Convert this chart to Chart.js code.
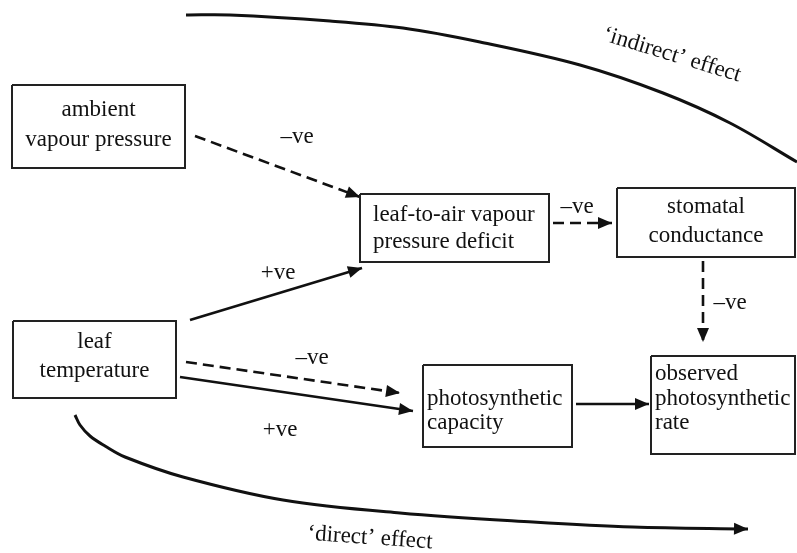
<!DOCTYPE html>
<html lang="en">
<head>
<meta charset="UTF-8">
<title>Leaf temperature / vapour pressure pathways</title>
<script src="https://cdn.jsdelivr.net/npm/chart.js"></script>
<style>
  html, body { margin: 0; padding: 0; background: #fff; }
  #wrap { width: 797px; height: 553px; }
</style>
</head>
<body>
<div id="wrap"><canvas id="diagram" width="797" height="553"></canvas></div>
<script>
// --- diagram data (in diagram units, 0..797 across, 0..553 down) ---
const boxLines = [
  ['ambient', 'vapour pressure'],
  ['leaf-to-air vapour', 'pressure deficit'],
  ['stomatal', 'conductance'],
  ['leaf', 'temperature'],
  ['photosynthetic', 'capacity'],
  ['observed', 'photosynthetic', 'rate']
];
const boxX0 = [12, 360, 617, 13, 423, 651];
const boxX1 = [185, 549, 795, 176, 572, 795];
const boxY0 = [85, 194, 188, 321, 365, 356];
const boxY1 = [168, 262, 257, 398, 447, 454];
const boxBaselines = [[116, 146], [221, 248], [213, 242], [348, 377], [405, 429], [380, 405, 429]];
const boxAlign = ['center', 'left', 'center', 'center', 'left', 'left'];

// straight arrows: start, end, dashed?
const arrowFrom = [[195, 136], [190, 320], [553, 223], [703, 261], [186, 362], [180, 377], [576, 404]];
const arrowTo   = [[360, 197], [362, 268], [612, 223], [703, 342], [400, 393], [413, 411], [649, 404]];
const arrowDashed = [true, false, true, true, true, false, false];

// sign labels on the arrows
const signText = ['\u2013ve', '+ve', '\u2013ve', '\u2013ve', '\u2013ve', '+ve'];
const signPos = [[297, 143], [278, 279], [577, 213], [730, 309], [312, 364], [280, 436]];

// long curved effects
const indirectCurve = [[186, 15], [230, 15], [330, 21], [403, 28], [480, 42], [580, 65], [663, 93], [730, 123], [797, 162]];
const directCurve = [[75, 415], [80, 425], [90, 436], [105, 446], [125, 457], [183, 477], [283, 500], [400, 513], [533, 522], [633, 527], [748, 529]];
const effectText = ['\u2018indirect\u2019 effect', '\u2018direct\u2019 effect'];
const effectPos = [[672, 55], [370, 538]];
const effectAngle = [17, 4];

const FONT = '23px "Liberation Serif", "DejaVu Serif", serif';
const INK = '#111';

const pts = arr => arr.map(p => ({ x: p[0], y: p[1] }));
const datasets = [];

boxX0.forEach((x0, i) => {
  datasets.push({
    data: pts([[x0, boxY0[i]], [boxX1[i], boxY0[i]], [boxX1[i], boxY1[i]], [x0, boxY1[i]], [x0, boxY0[i]]]),
    borderColor: '#222', borderWidth: 2, kind: 'box'
  });
});
arrowFrom.forEach((f, i) => {
  datasets.push({
    data: pts([f, arrowTo[i]]),
    borderColor: INK, borderWidth: 2.6,
    borderDash: arrowDashed[i] ? [11, 6] : [],
    kind: 'arrow'
  });
});
datasets.push({ data: pts(indirectCurve), borderColor: INK, borderWidth: 3, tension: 0.35, kind: 'curve' });
datasets.push({ data: pts(directCurve), borderColor: INK, borderWidth: 3, tension: 0.35, kind: 'arrow' });

// arrowheads + all text, drawn through the chart scales
const decorations = {
  id: 'decorations',
  afterDatasetsDraw(chart) {
    const { ctx, scales: { x, y } } = chart;
    ctx.save();
    ctx.fillStyle = INK;

    chart.data.datasets.forEach(ds => {
      if (ds.kind !== 'arrow') return;
      const n = ds.data.length;
      const a = ds.data[n - 2], b = ds.data[n - 1];
      const ax = x.getPixelForValue(a.x), ay = y.getPixelForValue(a.y);
      const bx = x.getPixelForValue(b.x), by = y.getPixelForValue(b.y);
      const ang = Math.atan2(by - ay, bx - ax);
      const len = 14, half = 6;
      ctx.beginPath();
      ctx.moveTo(bx, by);
      ctx.lineTo(bx - len * Math.cos(ang) + half * Math.sin(ang), by - len * Math.sin(ang) - half * Math.cos(ang));
      ctx.lineTo(bx - len * Math.cos(ang) - half * Math.sin(ang), by - len * Math.sin(ang) + half * Math.cos(ang));
      ctx.closePath();
      ctx.fill();
    });

    ctx.font = FONT;
    ctx.textBaseline = 'alphabetic';
    boxLines.forEach((lines, i) => {
      const align = boxAlign[i];
      ctx.textAlign = align;
      const px = align === 'center'
        ? x.getPixelForValue((boxX0[i] + boxX1[i]) / 2)
        : x.getPixelForValue(boxX0[i]) + (i === 1 ? 13 : 4);
      lines.forEach((t, j) => ctx.fillText(t, px, y.getPixelForValue(boxBaselines[i][j])));
    });

    ctx.textAlign = 'center';
    signText.forEach((t, i) => ctx.fillText(t, x.getPixelForValue(signPos[i][0]), y.getPixelForValue(signPos[i][1])));

    ctx.textBaseline = 'middle';
    effectText.forEach((t, i) => {
      ctx.save();
      ctx.translate(x.getPixelForValue(effectPos[i][0]), y.getPixelForValue(effectPos[i][1]));
      ctx.rotate(effectAngle[i] * Math.PI / 180);
      ctx.fillText(t, 0, 0);
      ctx.restore();
    });
    ctx.restore();
  }
};

new Chart(document.getElementById('diagram'), {
  type: 'scatter',
  data: { datasets: datasets.map(d => Object.assign({ showLine: true, pointRadius: 0, fill: false, tension: 0 }, d)) },
  options: {
    responsive: false,
    animation: false,
    layout: { padding: 0 },
    plugins: { legend: { display: false }, tooltip: { enabled: false } },
    scales: {
      x: { type: 'linear', min: 0, max: 797, display: false },
      y: { type: 'linear', min: 0, max: 553, reverse: true, display: false }
    }
  },
  plugins: [decorations]
});
</script>
</body>
</html>
